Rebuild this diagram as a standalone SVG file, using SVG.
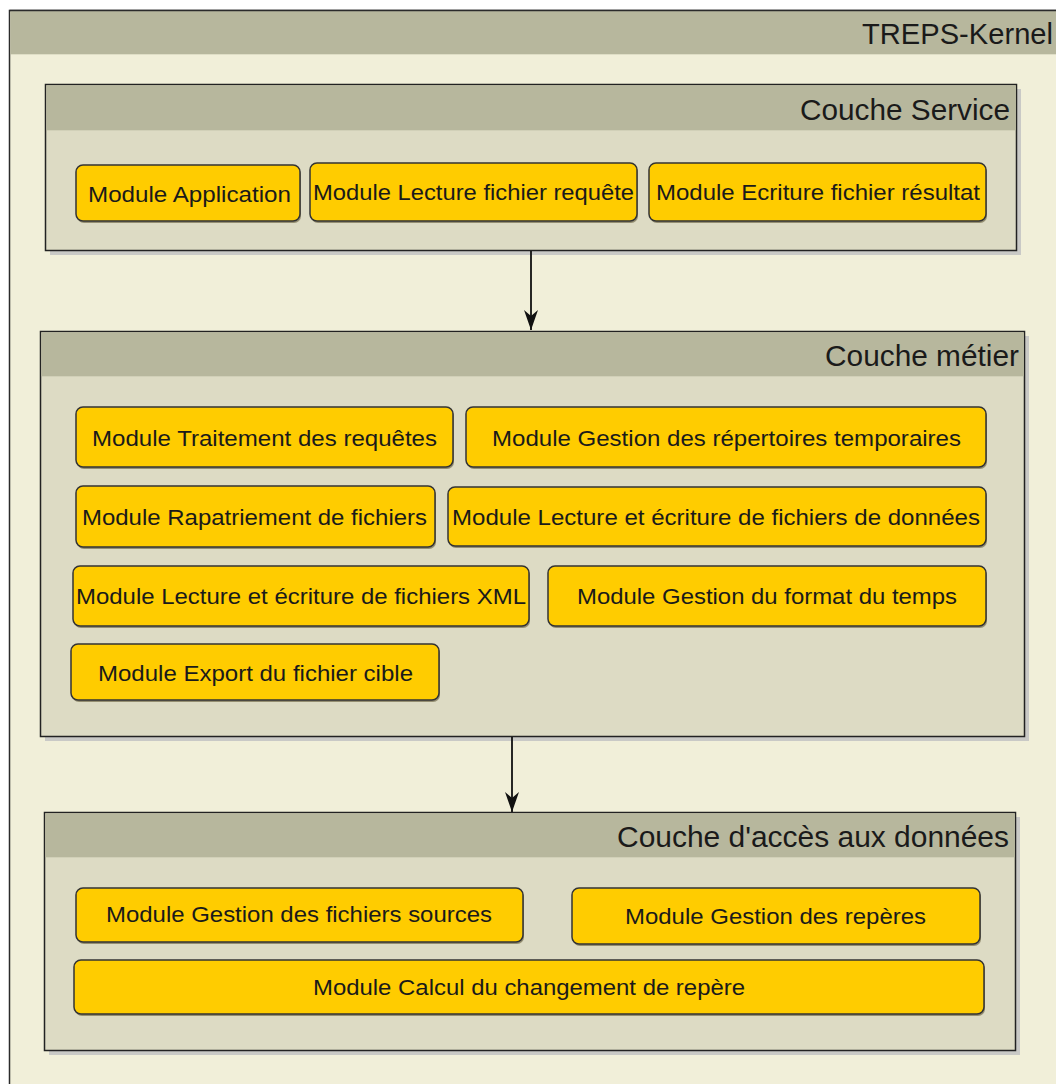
<svg xmlns="http://www.w3.org/2000/svg" width="1056" height="1084" viewBox="0 0 1056 1084">
  <defs>
    <marker id="arrow" viewBox="0 0 20 16" refX="20" refY="8" markerWidth="20" markerHeight="14" markerUnits="userSpaceOnUse" orient="auto" preserveAspectRatio="none">
      <path d="M0,0 L20,8 L0,16 L6,8 Z" fill="#111"/>
    </marker>
  </defs>
  <style>
    .frame-body { fill: #F1EFD9; stroke: #2b2b2b; stroke-width: 1.5; }
    .frame-head { fill: #B7B79D; }
    .layer-shadow { fill: #C9C9C6; }
    .layer-body { fill: #DDDBC4; stroke: #222; stroke-width: 1.5; }
    .layer-head { fill: #B7B79D; }
    .title { font-family: "Liberation Sans", Arial, sans-serif; font-size: 29px; fill: #1a1a1a; }
    .mod-shadow { fill: #5a5030; opacity: 0.55; }
    .mod { fill: #FFCC00; stroke: #333; stroke-width: 1.5; }
    .label { font-family: "Liberation Sans", Arial, sans-serif; font-size: 22px; fill: #1a1a1a; text-anchor: middle; }
    .edge { stroke: #111; stroke-width: 1.8; fill: none; }
  </style>

  <rect x="0" y="0" width="1056" height="1084" fill="#FFFFFF"/>

  <!-- package frame -->
  <g id="treps-kernel">
    <rect class="frame-body" x="9.5" y="10.5" width="1060" height="1090"/>
    <rect class="frame-head" x="10.3" y="11.3" width="1050" height="43"/>
    <line x1="9.5" y1="10.5" x2="1056" y2="10.5" stroke="#2b2b2b" stroke-width="1.5"/>
    <text class="title" x="1053" y="44" text-anchor="end" textLength="191" lengthAdjust="spacingAndGlyphs">TREPS-Kernel</text>
  </g>

  <!-- service layer -->
  <g id="couche-service">
    <rect class="layer-shadow" x="50" y="89" width="971" height="166"/>
    <rect class="layer-body" x="45.5" y="84.5" width="971" height="166"/>
    <rect class="layer-head" x="46.3" y="85.3" width="969.4" height="45"/>
    <text class="title" x="1010" y="120" text-anchor="end" textLength="210" lengthAdjust="spacingAndGlyphs">Couche Service</text>
  </g>
  <g id="module-application">
    <rect class="mod-shadow" x="77" y="167" width="224" height="56" rx="7"/>
    <rect class="mod" x="76" y="165" width="224" height="56" rx="7"/>
    <text class="label" x="189.5" y="202" textLength="203" lengthAdjust="spacingAndGlyphs">Module Application</text>
  </g>
  <g id="module-lecture-requete">
    <rect class="mod-shadow" x="311" y="165" width="327" height="58" rx="7"/>
    <rect class="mod" x="310" y="163" width="327" height="58" rx="7"/>
    <text class="label" x="473.5" y="200" textLength="321" lengthAdjust="spacingAndGlyphs">Module Lecture fichier requête</text>
  </g>
  <g id="module-ecriture-resultat">
    <rect class="mod-shadow" x="650" y="165" width="337" height="58" rx="7"/>
    <rect class="mod" x="649" y="163" width="337" height="58" rx="7"/>
    <text class="label" x="818" y="200" textLength="324" lengthAdjust="spacingAndGlyphs">Module Ecriture fichier résultat</text>
  </g>

  <!-- business layer -->
  <g id="couche-metier">
    <rect class="layer-shadow" x="45" y="336" width="984" height="405"/>
    <rect class="layer-body" x="40.5" y="331.5" width="984" height="405"/>
    <rect class="layer-head" x="41.3" y="332.3" width="982.4" height="44"/>
    <text class="title" x="1019" y="366" text-anchor="end" textLength="194" lengthAdjust="spacingAndGlyphs">Couche métier</text>
  </g>
  <g id="module-traitement-requetes">
    <rect class="mod-shadow" x="77" y="409" width="377" height="60" rx="7"/>
    <rect class="mod" x="76" y="407" width="377" height="60" rx="7"/>
    <text class="label" x="264.5" y="446" textLength="345" lengthAdjust="spacingAndGlyphs">Module Traitement des requêtes</text>
  </g>
  <g id="module-repertoires-temporaires">
    <rect class="mod-shadow" x="467" y="409" width="520" height="60" rx="7"/>
    <rect class="mod" x="466" y="407" width="520" height="60" rx="7"/>
    <text class="label" x="726.5" y="446" textLength="469" lengthAdjust="spacingAndGlyphs">Module Gestion des répertoires temporaires</text>
  </g>
  <g id="module-rapatriement">
    <rect class="mod-shadow" x="77" y="488" width="359" height="61" rx="7"/>
    <rect class="mod" x="76" y="486" width="359" height="61" rx="7"/>
    <text class="label" x="254.5" y="525" textLength="345" lengthAdjust="spacingAndGlyphs">Module Rapatriement de fichiers</text>
  </g>
  <g id="module-fichiers-donnees">
    <rect class="mod-shadow" x="449" y="489" width="538" height="59" rx="7"/>
    <rect class="mod" x="448" y="487" width="538" height="59" rx="7"/>
    <text class="label" x="716" y="525" textLength="528" lengthAdjust="spacingAndGlyphs">Module Lecture et écriture de fichiers de données</text>
  </g>
  <g id="module-fichiers-xml">
    <rect class="mod-shadow" x="74" y="568" width="456" height="60" rx="7"/>
    <rect class="mod" x="73" y="566" width="456" height="60" rx="7"/>
    <text class="label" x="301" y="604" textLength="450" lengthAdjust="spacingAndGlyphs">Module Lecture et écriture de fichiers XML</text>
  </g>
  <g id="module-format-temps">
    <rect class="mod-shadow" x="549" y="568" width="438" height="60" rx="7"/>
    <rect class="mod" x="548" y="566" width="438" height="60" rx="7"/>
    <text class="label" x="767" y="604" textLength="380" lengthAdjust="spacingAndGlyphs">Module Gestion du format du temps</text>
  </g>
  <g id="module-export">
    <rect class="mod-shadow" x="72" y="646" width="368" height="56" rx="7"/>
    <rect class="mod" x="71" y="644" width="368" height="56" rx="7"/>
    <text class="label" x="255.5" y="681" textLength="315" lengthAdjust="spacingAndGlyphs">Module Export du fichier cible</text>
  </g>

  <!-- data access layer -->
  <g id="couche-acces-donnees">
    <rect class="layer-shadow" x="49" y="817" width="971" height="238"/>
    <rect class="layer-body" x="44.5" y="812.5" width="971" height="238"/>
    <rect class="layer-head" x="45.3" y="813.3" width="969.4" height="44"/>
    <text class="title" x="1009" y="847" text-anchor="end" textLength="392" lengthAdjust="spacingAndGlyphs">Couche d'accès aux données</text>
  </g>
  <g id="module-fichiers-sources">
    <rect class="mod-shadow" x="77" y="890" width="447" height="54" rx="7"/>
    <rect class="mod" x="76" y="888" width="447" height="54" rx="7"/>
    <text class="label" x="299" y="922" textLength="386" lengthAdjust="spacingAndGlyphs">Module Gestion des fichiers sources</text>
  </g>
  <g id="module-reperes">
    <rect class="mod-shadow" x="573" y="890" width="408" height="56" rx="7"/>
    <rect class="mod" x="572" y="888" width="408" height="56" rx="7"/>
    <text class="label" x="775.5" y="924" textLength="301" lengthAdjust="spacingAndGlyphs">Module Gestion des repères</text>
  </g>
  <g id="module-changement-repere">
    <rect class="mod-shadow" x="75" y="962" width="910" height="54" rx="7"/>
    <rect class="mod" x="74" y="960" width="910" height="54" rx="7"/>
    <text class="label" x="529" y="995" textLength="432" lengthAdjust="spacingAndGlyphs">Module Calcul du changement de repère</text>
  </g>

  <!-- dependencies between layers -->
  <g id="connectors">
    <line class="edge" x1="531" y1="251" x2="531" y2="330" marker-end="url(#arrow)"/>
    <line class="edge" x1="512" y1="737" x2="512" y2="812" marker-end="url(#arrow)"/>
  </g>
</svg>
